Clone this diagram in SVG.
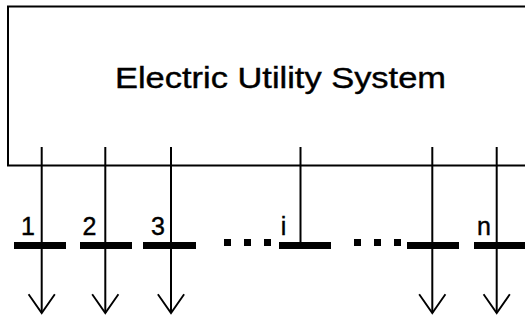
<svg xmlns="http://www.w3.org/2000/svg" width="525" height="320" viewBox="0 0 525 320">
  <style>
    .ln { stroke: #000; stroke-width: 2; fill: none; }
    .bar { fill: #000; }
    .lbl { font-family: "Liberation Sans", Arial, sans-serif; font-size: 25px; fill: #000; stroke: #000; stroke-width: 0.4; text-anchor: middle; }
    .title { font-family: "Liberation Sans", Arial, sans-serif; font-size: 29px; fill: #000; stroke: #000; stroke-width: 0.4; }
  </style>
  <defs>
    <marker id="vhead" markerUnits="userSpaceOnUse" markerWidth="30" markerHeight="30" viewBox="-22 -16 24 32" refX="0" refY="0" orient="auto" overflow="visible">
      <path d="M-20,-14 L0,0 L-20,14" fill="none" stroke="#000" stroke-width="2"/>
    </marker>
  </defs>
  <rect width="525" height="320" fill="#fff"/>

  <g id="utility">
    <path class="ln" d="M527,6.5 L8,6.5 L8,165.5 L527,165.5"/>
    <text class="title" x="115" y="88" textLength="331" lengthAdjust="spacingAndGlyphs">Electric Utility System</text>
  </g>

  <g id="bus-1">
    <rect class="bar" x="14" y="242" width="52" height="7"/>
    <text class="lbl" x="28" y="235">1</text>
  </g>
  <g id="bus-2">
    <rect class="bar" x="80" y="242" width="52" height="7"/>
    <text class="lbl" x="89.5" y="235">2</text>
  </g>
  <g id="bus-3">
    <rect class="bar" x="143" y="242" width="53" height="7"/>
    <text class="lbl" x="158" y="235">3</text>
  </g>
  <g id="dots-1">
    <rect class="bar" x="224" y="239" width="7" height="7"/>
    <rect class="bar" x="244" y="239" width="7" height="7"/>
    <rect class="bar" x="264" y="239" width="7" height="7"/>
  </g>
  <g id="bus-i">
    <rect class="bar" x="279" y="242" width="52" height="7"/>
    <text class="lbl" x="283.5" y="235">i</text>
  </g>
  <g id="dots-2">
    <rect class="bar" x="354" y="239" width="7" height="7"/>
    <rect class="bar" x="374" y="239" width="7" height="7"/>
    <rect class="bar" x="394" y="239" width="7" height="7"/>
  </g>
  <g id="bus-5">
    <rect class="bar" x="407" y="242" width="52" height="7"/>
  </g>
  <g id="bus-n">
    <rect class="bar" x="474" y="242" width="51" height="7"/>
    <text class="lbl" x="484" y="235">n</text>
  </g>

  <g id="connectors">
    <line class="ln" x1="41.7" y1="147" x2="41.7" y2="313" marker-end="url(#vhead)"/>
    <line class="ln" x1="105.3" y1="147" x2="105.3" y2="313" marker-end="url(#vhead)"/>
    <line class="ln" x1="171" y1="147" x2="171" y2="313" marker-end="url(#vhead)"/>
    <line class="ln" x1="300.5" y1="147" x2="300.5" y2="243"/>
    <line class="ln" x1="432.3" y1="147" x2="432.3" y2="313" marker-end="url(#vhead)"/>
    <line class="ln" x1="496.7" y1="147" x2="496.7" y2="313" marker-end="url(#vhead)"/>
  </g>
</svg>
